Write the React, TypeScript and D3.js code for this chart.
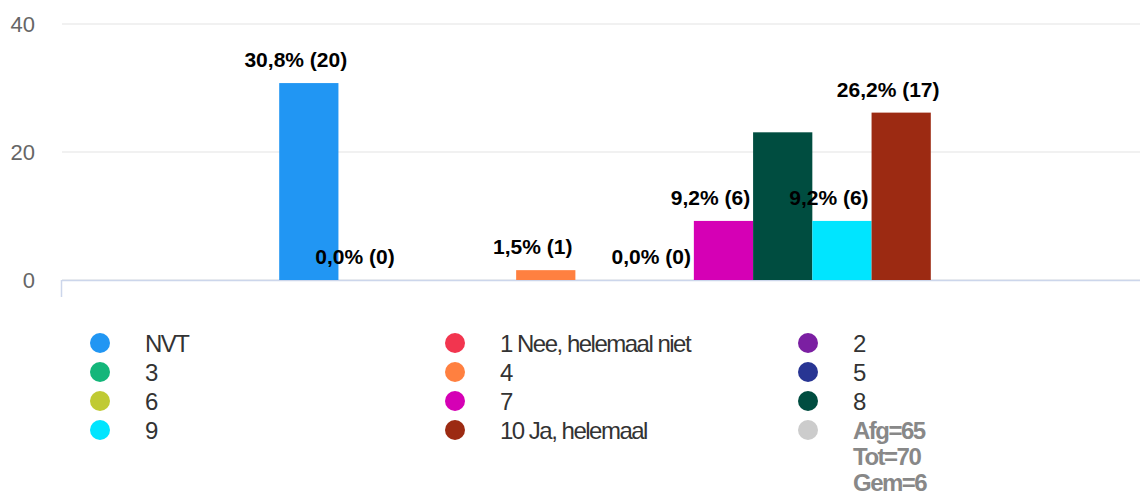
import React from "react";
import * as d3 from "d3";

const categories = ["NVT", "1 Nee, helemaal niet", "2", "3", "4", "5", "6", "7", "8", "9", "10 Ja, helemaal"];
const counts = [20, 0, 0, 0, 1, 0, 0, 6, 15, 6, 17];
const colors = ["#2196F3", "#F2354F", "#7B1FA2", "#13B67A", "#FF8040", "#283593", "#C0CA33", "#D500B5", "#004D40", "#00E5FF", "#9C2A12"];
const labelShown = [true, true, false, false, true, false, true, true, false, true, true];
const yTicks = [0, 20, 40];
const summaryLines = ["Afg=65", "Tot=70", "Gem=6"];
const summaryColor = "#CCCCCC";

const W = 1140;
const H = 494;
const FONT = "Arial, 'Liberation Sans', sans-serif";

export default function App() {
  const total = d3.sum(counts);
  const pct = counts.map((c) => (c / total) * 100);

  const y = d3.scaleLinear().domain([0, 40]).range([280, 24]);
  const outer = d3.scaleBand<string>().domain(["q"]).range([62, 1148]).paddingInner(0.4).paddingOuter(0.2);
  const x = d3
    .scaleBand<string>()
    .domain(categories)
    .range([outer("q") as number, (outer("q") as number) + outer.bandwidth()])
    .padding(0);

  const fmt = (i: number) => pct[i].toFixed(1).replace(".", ",") + "% (" + counts[i] + ")";

  const legendItems = categories.map((c, i) => ({ label: c, color: colors[i], lines: [c], bold: false }));
  legendItems.push({ label: summaryLines[0], color: summaryColor, lines: summaryLines, bold: true });
  const colX = [100, 455, 808];
  const rowY0 = 343;
  const rowStep = 29;

  return (
    <svg width={W} height={H} style={{ position: "absolute", left: 0, top: 0, background: "#fff" }} fontFamily={FONT}>
      {yTicks.map((t) => (
        <g key={t}>
          <line x1={62} x2={1148} y1={y(t)} y2={y(t)} stroke="#e3e3e3" strokeWidth={1} />
          <text x={35} y={y(t)} dy="0.36em" textAnchor="end" fontSize={22} fill="#666666">
            {t}
          </text>
        </g>
      ))}
      <line x1={62} x2={1148} y1={y(0) + 0.5} y2={y(0) + 0.5} stroke="#ccd6eb" strokeWidth={1.5} />
      <line x1={61.5} x2={61.5} y1={y(0)} y2={297} stroke="#ccd6eb" strokeWidth={1.5} />
      {categories.map((c, i) => (
        <rect
          key={c}
          x={x(c)}
          y={y(pct[i])}
          width={x.bandwidth()}
          height={y(0) - y(pct[i])}
          fill={colors[i]}
        />
      ))}
      {categories.map((c, i) =>
        labelShown[i] ? (
          <text
            key={"l" + c}
            x={(x(c) as number) + x.bandwidth() / 2 - 13}
            y={y(pct[i]) - 16}
            textAnchor="middle"
            fontSize={21}
            fontWeight="bold"
            fill="#000"
          >
            {fmt(i)}
          </text>
        ) : null
      )}
      {legendItems.map((it, i) => {
        const cx = colX[i % 3];
        const cy = rowY0 + Math.floor(i / 3) * rowStep;
        return (
          <g key={"lg" + i}>
            <circle cx={cx} cy={cy} r={10} fill={it.color} />
            {it.lines.map((ln, j) => (
              <text
                key={j}
                x={cx + 45}
                y={cy + 8.5 + j * 26}
                fontSize={24}
                letterSpacing={-1.5}
                fontWeight={it.bold ? "bold" : "normal"}
                fill={it.bold ? "#888888" : "#333333"}
              >
                {ln}
              </text>
            ))}
          </g>
        );
      })}
    </svg>
  );
}
